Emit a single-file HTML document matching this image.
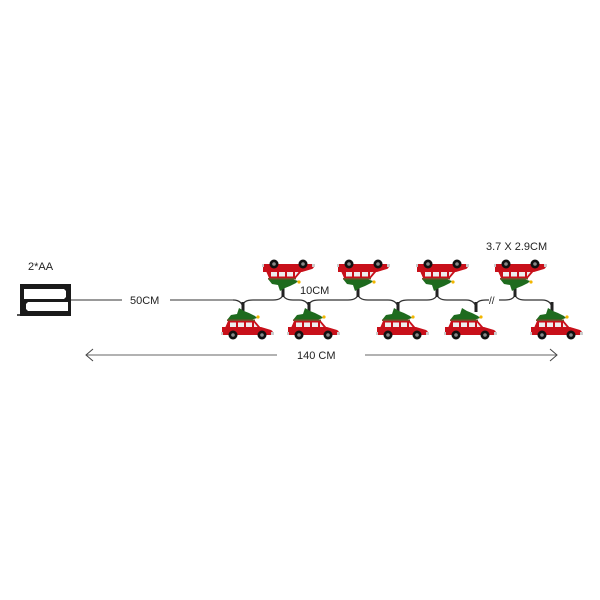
<!DOCTYPE html>
<html><head><meta charset="utf-8"><style>
html,body{margin:0;padding:0;background:#fff;}
svg{display:block;}
text{font-family:"Liberation Sans",sans-serif;fill:#222;}
</style></head><body>
<svg width="600" height="600" viewBox="0 0 600 600" xmlns="http://www.w3.org/2000/svg">
<defs>
<g id="car">
  <!-- tree -->
  <rect x="-6.5" y="-22" width="3" height="6" fill="#222"/>
  <polygon points="-20,-19 -16,-24 -10,-25 -8,-31 -3,-28 2,-26 8,-23 10,-21 4,-19" fill="#1e6b1e"/>
  <circle cx="11" cy="-22" r="1.6" fill="#f2b600"/>
  <rect x="-20" y="-19.5" width="28" height="1.5" fill="#7a4a2a"/>
  <!-- cabin -->
  <path d="M-22,-11 L-19,-18 L8,-18 L14,-11 Z" fill="#c8101a"/>
  <rect x="-17" y="-16.5" width="6" height="5" fill="#eee"/>
  <rect x="-9" y="-16.5" width="6" height="5" fill="#eee"/>
  <rect x="-1" y="-16.5" width="6" height="5" fill="#eee"/>
  <path d="M7,-16.5 L11,-11.5 L7,-11.5Z" fill="#eee"/>
  <!-- body -->
  <path d="M-25,-12 L14,-12 L24,-9 Q26,-8 26,-6 L26,-4 L-25,-4 Z" fill="#c8101a"/>
  <rect x="-26" y="-7" width="2" height="3" fill="#ccc"/>
  <rect x="24" y="-7" width="3" height="3" fill="#ccc"/>
  <circle cx="-14" cy="-4" r="4.5" fill="#111"/><circle cx="-14" cy="-4" r="1.8" fill="#888"/>
  <circle cx="15" cy="-4" r="4.5" fill="#111"/><circle cx="15" cy="-4" r="1.8" fill="#888"/>
</g>
</defs>

<!-- battery box -->
<text x="28" y="270" font-size="11">2*AA</text>
<rect x="20" y="284" width="51" height="32" fill="#1a1a1a"/>
<path d="M24,289 L64,289 L66,291 L66,297 L64,299 L24,299 Z" fill="#fff"/>
<path d="M28,302 L68,302 L68,311 L28,311 L26,309 L26,304 Z" fill="#fff"/>
<line x1="17" y1="315" x2="21" y2="315" stroke="#1a1a1a" stroke-width="1.5"/>
<line x1="71" y1="300" x2="122" y2="300" stroke="#333" stroke-width="1"/>
<text x="130" y="304" font-size="11">50CM</text>
<line x1="170" y1="300" x2="233" y2="300" stroke="#333" stroke-width="1"/>

<!-- wire -->
<path d="M233,300 Q243,300 243,310 M243,306 Q243,300 253,300 L273,300 Q283,300 283,293 Q283,300 293,300 L299,300 Q309,300 309,310 M309,306 Q309,300 319,300 L348,300 Q358,300 358,293 Q358,300 368,300 L388,300 Q398,300 398,310 M398,306 Q398,300 408,300 L427,300 Q437,300 437,293 Q437,300 447,300 L466,300 Q476,300 476,310 M476,306 Q476,300 486,300 L505,300 Q515,300 515,293 Q515,300 525,300 L542,300 Q552,300 552,310" fill="none" stroke="#333" stroke-width="1.2"/>
<rect x="241.5" y="302" width="3" height="10" fill="#222"/>
<rect x="307.5" y="302" width="3" height="10" fill="#222"/>
<rect x="396.5" y="302" width="3" height="10" fill="#222"/>
<rect x="474.5" y="302" width="3" height="10" fill="#222"/>
<rect x="550.5" y="302" width="3" height="10" fill="#222"/>
<rect x="281.5" y="287" width="3" height="10" fill="#222"/>
<rect x="356.5" y="287" width="3" height="10" fill="#222"/>
<rect x="435.5" y="287" width="3" height="10" fill="#222"/>
<rect x="513.5" y="287" width="3" height="10" fill="#222"/>
<rect x="489" y="296" width="10" height="8" fill="#fff"/>
<text x="489" y="304" font-size="10">//</text>

<!-- bottom cars -->
<use href="#car" transform="translate(247,339)"/>
<use href="#car" transform="translate(313,339)"/>
<use href="#car" transform="translate(402,339)"/>
<use href="#car" transform="translate(470,339)"/>
<use href="#car" transform="translate(556,339)"/>
<!-- top cars (flipped) -->
<use href="#car" transform="translate(288,260) scale(1,-1)"/>
<use href="#car" transform="translate(363,260) scale(1,-1)"/>
<use href="#car" transform="translate(442,260) scale(1,-1)"/>
<use href="#car" transform="translate(520,260) scale(1,-1)"/>

<text x="300" y="294" font-size="11">10CM</text>
<text x="486" y="250" font-size="11">3.7 X 2.9CM</text>

<!-- dimension -->
<line x1="86" y1="355" x2="277" y2="355" stroke="#666" stroke-width="1"/>
<polyline points="93,349 86,355 93,361" fill="none" stroke="#444" stroke-width="1"/>
<text x="297" y="359" font-size="11">140  CM</text>
<line x1="365" y1="355" x2="557" y2="355" stroke="#666" stroke-width="1"/>
<polyline points="550,349 557,355 550,361" fill="none" stroke="#444" stroke-width="1"/>
</svg>
</body></html>
